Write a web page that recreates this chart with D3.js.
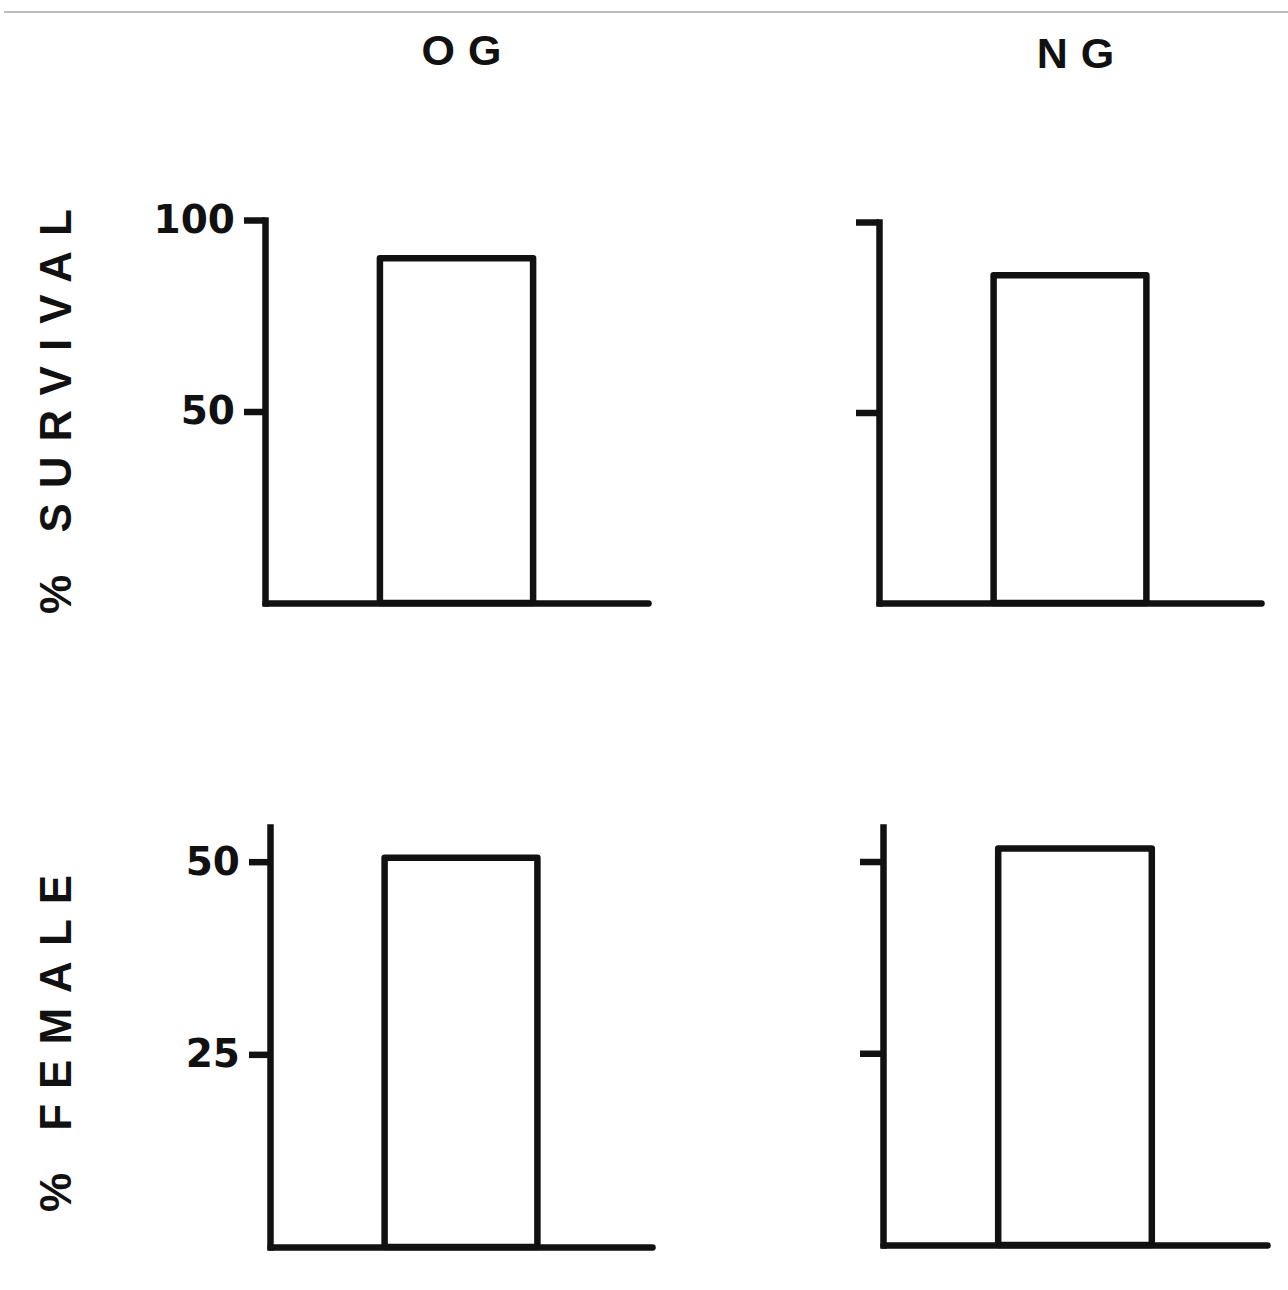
<!DOCTYPE html>
<html>
<head>
<meta charset="utf-8">
<script src="https://cdn.jsdelivr.net/npm/d3@7"></script>
<style>
  html, body { margin: 0; padding: 0; background: #fff; }
  svg { display: block; }
  text { font-family: "Liberation Sans", Arial, Helvetica, sans-serif; font-weight: bold; fill: #111; }
  .tick text { font-family: "DejaVu Sans", "Liberation Sans", sans-serif; }
</style>
</head>
<body>
<svg id="chart" width="1288" height="1290"></svg>
<script>
// Groups shown as column headings
const groups = ["OG", "NG"];

// Percent of animals surviving, per group
const survival = [90, 86];
const survivalTicks = [50, 100];
const survivalMax = 100;

// Percent of survivors that are female, per group
const female = [50.5, 51.7];
const femaleTicks = [25, 50];
const femaleMax = 54.5;

// Row labels
const rowLabels = ["% SURVIVAL", "% FEMALE"];

const INK = "#111";
const LINE_W = 6.5;

const svg = d3.select("#chart");

// thin frame line along the top edge
svg.append("line")
  .attr("x1", 4).attr("x2", 1288).attr("y1", 12).attr("y2", 12)
  .attr("stroke", "#bdbdbd").attr("stroke-width", 2);

// panel frames: [axis x, axis end x, baseline y, top y]
const frames = [
  [[265, 648, 603, 220], [879, 1261, 603, 222]],
  [[270, 652, 1247, 827], [883, 1267, 1245, 827]]
];

const rows = [
  { values: survival, ticks: survivalTicks, max: survivalMax },
  { values: female,   ticks: femaleTicks,   max: femaleMax }
];

rows.forEach((row, r) => {
  groups.forEach((g, c) => {
    const [ax, ex, by, ty] = frames[r][c];
    const y = d3.scaleLinear().domain([0, row.max]).range([by, ty]);
    const x = d3.scaleBand().domain([g]).range([ax, ex])
      .paddingInner(0).paddingOuter(0.75);

    const panel = svg.append("g");

    // bar outline
    panel.append("rect")
      .attr("x", x(g))
      .attr("y", y(row.values[c]))
      .attr("width", x.bandwidth())
      .attr("height", y(0) - y(row.values[c]))
      .attr("fill", "#fff")
      .attr("stroke", INK)
      .attr("stroke-width", LINE_W)
      .attr("stroke-linejoin", "round");

    // vertical axis, labelled only in the first column
    const yAxis = d3.axisLeft(y)
      .tickValues(row.ticks)
      .tickSize(c === 0 ? 21 : 23)
      .tickSizeOuter(0)
      .tickPadding(9)
      .tickFormat(c === 0 ? d3.format("d") : () => "");
    const yg = panel.append("g")
      .attr("transform", `translate(${ax},0)`)
      .call(yAxis);
    yg.attr("font-family", null).attr("font-size", null);
    yg.select(".domain")
      .attr("stroke", INK).attr("stroke-width", LINE_W)
      .attr("stroke-linecap", "square");
    yg.selectAll(".tick line")
      .attr("stroke", INK).attr("stroke-width", LINE_W);
    yg.selectAll(".tick text")
      .attr("font-size", 39)
      .attr("fill", INK);

    // horizontal baseline
    const xAxis = d3.axisBottom(x).tickValues([]).tickSizeOuter(0);
    const xg = panel.append("g")
      .attr("transform", `translate(0,${by})`)
      .call(xAxis);
    xg.select(".domain")
      .attr("stroke", INK).attr("stroke-width", LINE_W)
      .attr("stroke-linecap", "round");

    // column heading above the top row
    if (r === 0) {
      svg.append("text")
        .attr("x", c === 0 ? 468 : 1082)
        .attr("y", c === 0 ? 65 : 68)
        .attr("text-anchor", "middle")
        .attr("font-size", 43)
        .attr("letter-spacing", 13)
        .text(g);
    }
  });

  // rotated row label
  const cy = r === 0 ? 404 : 1036;
  svg.append("text")
    .attr("transform", `translate(71,${cy}) rotate(-90)`)
    .attr("text-anchor", "middle")
    .attr("font-size", 44)
    .attr("letter-spacing", 15)
    .text(rowLabels[r]);
});
</script>
</body>
</html>
